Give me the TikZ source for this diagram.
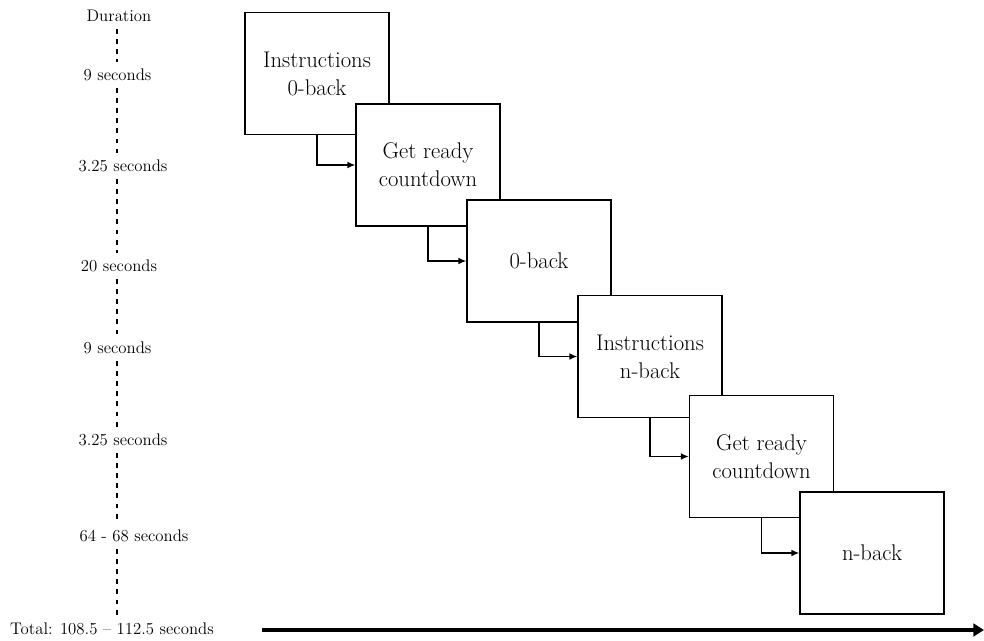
\documentclass[tikz,border=0pt]{standalone}
\usepackage{fontspec}
\setmainfont{Latin Modern Roman}
\usetikzlibrary{arrows.meta}
\begin{document}
\begin{tikzpicture}[x=0.75pt,y=-0.75pt,
  stage/.style={draw, line width=0.8pt, fill=white, minimum width=108pt,
    minimum height=91.5pt, inner sep=0pt, align=center,
    font=\fontsize{17}{21}\selectfont},
  dur/.style={inner sep=1pt, font=\fontsize{12.6}{14}\selectfont},
  tick/.style={line width=1.1pt, dash pattern=on 3.6pt off 4pt, shorten <=4pt, shorten >=4pt},
  link/.style={line width=1.2pt, -{Latex[length=6pt,width=5pt]}},
  timeline/.style={line width=3pt, -{Triangle[length=8pt,width=9.5pt]}}
]
\useasboundingbox (0,0) rectangle (984,640);

% task blocks, each later one overlapping the previous
\node[stage] (b1) at (317,73.5)  {Instructions\\0-back};
\node[stage] (b2) at (428,165)   {Get ready\\countdown};
\node[stage] (b3) at (539,261)   {0-back};
\node[stage] (b4) at (650,356.5) {Instructions\\n-back};
\node[stage] (b5) at (761.5,456.5) {Get ready\\countdown};
\node[stage] (b6) at (872,553)   {n-back};

% transitions between blocks
\foreach \a/\b in {b1/b2, b2/b3, b3/b4, b4/b5, b5/b6}
  \draw[link] (\a.south) |- (\b.west);

% duration column
\coordinate (axis) at (117,0);
\node[dur] (d0) at (119,16)  {Duration};
\node[dur] (d1) at (117.5,75) {9 seconds};
\node[dur] (d2) at (123,166) {3.25 seconds};
\node[dur] (d3) at (119,266) {20 seconds};
\node[dur] (d4) at (117.5,348) {9 seconds};
\node[dur] (d5) at (123,440) {3.25 seconds};
\node[dur] (d6) at (134,536) {64 - 68 seconds};
\node[dur] (d7) at (112,629) {Total: 108.5 -- 112.5 seconds};

\foreach \a/\b in {d0/d1, d1/d2, d2/d3, d3/d4, d4/d5, d5/d6, d6/d7}
  \draw[tick] (\a.south -| axis) -- (\b.north -| axis);

% overall time axis
\coordinate (tstart) at (262,630);
\coordinate (tend) at (984,630);
\draw[timeline] (tstart) -- (tend);
\end{tikzpicture}
\end{document}
